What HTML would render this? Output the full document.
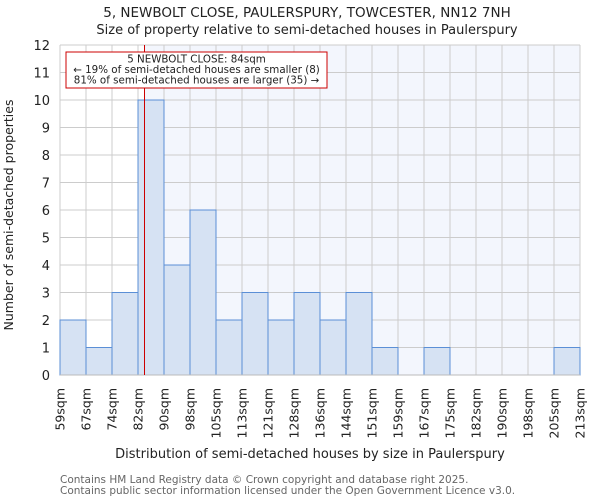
<!DOCTYPE html>
<html><head><meta charset="utf-8"><style>
body{margin:0;background:#fff;font-family:"DejaVu Sans","Liberation Sans",sans-serif;}
svg text{font-family:"DejaVu Sans","Liberation Sans",sans-serif;}
</style></head><body>
<svg id="chart" width="600" height="500" xmlns="http://www.w3.org/2000/svg">
<text x="307" y="17" text-anchor="middle" font-size="13.5" fill="#222">5, NEWBOLT CLOSE, PAULERSPURY, TOWCESTER, NN12 7NH</text>
<text x="307" y="34" text-anchor="middle" font-size="13" fill="#222">Size of property relative to semi-detached houses in Paulerspury</text>
<g id="plot"></g>
<text x="310" y="458" text-anchor="middle" font-size="13" fill="#222">Distribution of semi-detached houses by size in Paulerspury</text>
<text transform="translate(13,215) rotate(-90)" text-anchor="middle" font-size="12.5" fill="#222">Number of semi-detached properties</text>
<text x="60" y="483" font-size="10.5" fill="#666">Contains HM Land Registry data © Crown copyright and database right 2025.</text>
<text x="60" y="494" font-size="10.5" fill="#666">Contains public sector information licensed under the Open Government Licence v3.0.</text>
</svg>
<script>
const edgeLabels=["59sqm","67sqm","74sqm","82sqm","90sqm","98sqm","105sqm","113sqm","121sqm","128sqm","136sqm","144sqm","151sqm","159sqm","167sqm","175sqm","182sqm","190sqm","198sqm","205sqm","213sqm"];
const edgeValues=[59,67,74,82,90,98,105,113,121,128,136,144,151,159,167,175,182,190,198,205,213];
const counts=[2,1,3,10,4,6,2,3,2,3,2,3,1,0,1,0,0,0,0,1];
const yTicks=[0,1,2,3,4,5,6,7,8,9,10,11,12];
const propertySize=84;
const annotation=["5 NEWBOLT CLOSE: 84sqm","← 19% of semi-detached houses are smaller (8)","81% of semi-detached houses are larger (35) →"];

const NS="http://www.w3.org/2000/svg";
const X0=60,X1=580,Y0=375,Y1=45,YMAX=12;
const nb=counts.length;
const xi=i=>X0+(X1-X0)*i/nb;
const y=v=>Y0-(Y0-Y1)*v/YMAX;
function xv(v){for(let i=0;i<edgeValues.length-1;i++){if(v<=edgeValues[i+1])return xi(i+(v-edgeValues[i])/(edgeValues[i+1]-edgeValues[i]));}return X1;}
const g=document.getElementById('plot');
function mk(t,a){const e=document.createElementNS(NS,t);for(const k in a)e.setAttribute(k,a[k]);g.appendChild(e);return e;}
const px=xv(propertySize);
let e;
e=mk('rect',{x:px,y:Y1,width:X1-px,height:Y0-Y1,fill:'#f3f6fd'});


yTicks.forEach(t=>{
 e=mk('line',{x1:X0,x2:X1,y1:y(t),y2:y(t),stroke:'#cccccc','stroke-width':1});
 
 
 e=mk('text',{x:X0-10,y:y(t)+5,'text-anchor':'end','font-size':13,fill:'#222'});
 e.textContent=t;
 
 
});
edgeLabels.forEach((l,i)=>{
 e=mk('line',{x1:xi(i),x2:xi(i),y1:Y1,y2:Y0,stroke:'#cccccc','stroke-width':1});
 
 
 e=mk('text',{transform:`translate(${xi(i)+4.5},388) rotate(-90)`,'text-anchor':'end','font-size':12.5,fill:'#222'});
 e.textContent=l;
 
 
});
counts.forEach((c,i)=>{
 if(c<=0)return;
 e=mk('rect',{x:xi(i),y:y(c),width:xi(i+1)-xi(i),height:Y0-y(c),fill:'#d6e2f3',stroke:'#5b8fd6','stroke-width':1});
 
 
});
e=mk('line',{x1:X0,x2:X1,y1:Y0,y2:Y0,stroke:'#bbbbbb','stroke-width':1});


e=mk('line',{x1:px,x2:px,y1:Y1,y2:Y0,stroke:'#cc0000','stroke-width':1});


e=mk('rect',{x:66,y:52,width:261,height:36,fill:'#fff',stroke:'#cc0000','stroke-width':1});


annotation.forEach((t,i)=>{
 e=mk('text',{x:196.5,y:62.5+i*10.5,'text-anchor':'middle','font-size':10.3,fill:'#222'});
 e.textContent=t;
 
 
});
</script>
</body></html>
